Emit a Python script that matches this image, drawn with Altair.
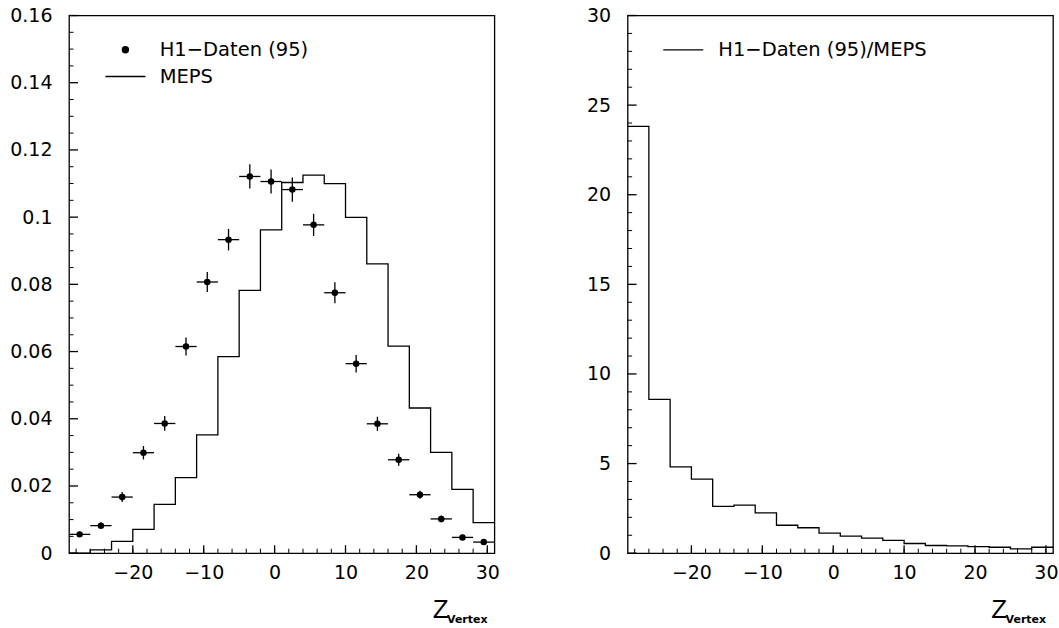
import altair as alt
import pandas as pd

# ---- data ----
bin_lo = [-29, -26, -23, -20, -17, -14, -11, -8, -5, -2, 1, 4, 7, 10, 13, 16, 19, 22, 25, 28]
bin_width = 3
meps = [0.0, 0.001, 0.0035, 0.0071, 0.0145, 0.0225, 0.0352, 0.0585, 0.0782, 0.0962,
        0.1103, 0.1125, 0.1100, 0.0999, 0.0861, 0.0616, 0.0432, 0.0300, 0.0190, 0.0091]
h1 = [0.0056, 0.0082, 0.0167, 0.0299, 0.0386, 0.0615, 0.0807, 0.0933, 0.1121, 0.1106,
      0.1082, 0.0977, 0.0775, 0.0564, 0.0385, 0.0278, 0.0174, 0.0102, 0.0047, 0.0033]
h1_err = [0.0008, 0.0009, 0.0015, 0.0020, 0.0022, 0.0027, 0.0030, 0.0032, 0.0036, 0.0036,
          0.0036, 0.0033, 0.0031, 0.0026, 0.0021, 0.0018, 0.0012, 0.0010, 0.0008, 0.0007]
ratio = [23.81, 8.58, 4.82, 4.13, 2.61, 2.68, 2.25, 1.56, 1.42, 1.12,
         0.95, 0.84, 0.71, 0.54, 0.43, 0.41, 0.37, 0.33, 0.24, 0.33]

x_major = [-20, -10, 0, 10, 20, 30]
x_minor = [-28, -26, -24, -22, -20, -18, -16, -14, -12, -10, -8, -6, -4, -2, 0,
           2, 4, 6, 8, 10, 12, 14, 16, 18, 20, 22, 24, 26, 28, 30]
yl_major = [0, 0.02, 0.04, 0.06, 0.08, 0.1, 0.12, 0.14, 0.16]
yl_minor = [0.005, 0.01, 0.015, 0.025, 0.03, 0.035, 0.045, 0.05, 0.055, 0.065, 0.07, 0.075,
            0.085, 0.09, 0.095, 0.105, 0.11, 0.115, 0.125, 0.13, 0.135, 0.145, 0.15, 0.155]
yr_major = [0, 5, 10, 15, 20, 25, 30]
yr_minor = [1, 2, 3, 4, 6, 7, 8, 9, 11, 12, 13, 14, 16, 17, 18, 19, 21, 22, 23, 24, 26, 27, 28, 29]

W = 425.4
H = 537.7
FONT = "DejaVu Sans"
LW = 1.3
LEG_FS = 19.5
LABEL_EXPR = "replace(toString(datum.value), '-', '\u2212')"

xscale = alt.Scale(domain=[-29, 31], nice=False, zero=False)
XAX = alt.Axis(values=x_major, labelExpr=LABEL_EXPR, title=None, ticks=False, domain=False,
               grid=False, labelFont=FONT, labelFontSize=19, labelColor="black",
               labelPadding=10, labelFlush=False, labelOverlap=False)


def yaxis(vals):
    return alt.Axis(values=vals, labelExpr=LABEL_EXPR, title=None, ticks=False, domain=False,
                    grid=False, labelFont=FONT, labelFontSize=19, labelColor="black",
                    labelPadding=17, labelFlush=False, labelOverlap=False)


def step_df(vals):
    return pd.DataFrame({"x": bin_lo + [bin_lo[-1] + bin_width],
                         "y": vals + [vals[-1]]})


def tick_layers(yscale, yax, ymaj, ymin):
    xmin_df = pd.DataFrame({"t": x_minor})
    xmaj_df = pd.DataFrame({"t": x_major})
    ymin_df = pd.DataFrame({"t": ymin})
    ymaj_df = pd.DataFrame({"t": ymaj})
    a = alt.Chart(xmin_df).mark_rule(color="black", strokeWidth=1).encode(
        x=alt.X("t:Q", scale=xscale, axis=XAX), y=alt.value(H), y2=alt.value(H - 4.5))
    b = alt.Chart(xmaj_df).mark_rule(color="black", strokeWidth=1.3).encode(
        x=alt.X("t:Q", scale=xscale, axis=XAX), y=alt.value(H), y2=alt.value(H - 8))
    c = alt.Chart(ymin_df).mark_rule(color="black", strokeWidth=1).encode(
        y=alt.Y("t:Q", scale=yscale, axis=yax), x=alt.value(0), x2=alt.value(4.5))
    d = alt.Chart(ymaj_df).mark_rule(color="black", strokeWidth=1.3).encode(
        y=alt.Y("t:Q", scale=yscale, axis=yax), x=alt.value(0), x2=alt.value(9))
    return [a, b, c, d]


def zlabel():
    z = alt.Chart(pd.DataFrame({"a": [0]})).mark_text(
        text="Z", font="Liberation Sans", fontSize=26, align="left", baseline="alphabetic",
        color="black").encode(x=alt.value(363.7), y=alt.value(602.3))
    v = alt.Chart(pd.DataFrame({"a": [0]})).mark_text(
        text="Vertex", font=FONT, fontSize=11, fontWeight="bold", align="left",
        baseline="alphabetic", color="black").encode(x=alt.value(378), y=alt.value(608))
    return [z, v]


# ---- left panel ----
yls = alt.Scale(domain=[0, 0.16], nice=False)
YLAX = yaxis(yl_major)
pts = pd.DataFrame({"c": [v + bin_width / 2 for v in bin_lo],
                    "lo": bin_lo, "hi": [v + bin_width for v in bin_lo],
                    "y": h1, "e": h1_err})
pts["ylo"] = pts["y"] - pts["e"]
pts["yhi"] = pts["y"] + pts["e"]

meps_line = alt.Chart(step_df(meps)).mark_line(
    interpolate="step-after", color="black", strokeWidth=LW).encode(
    x=alt.X("x:Q", scale=xscale, axis=XAX),
    y=alt.Y("y:Q", scale=yls, axis=YLAX))
hbar = alt.Chart(pts).mark_rule(color="black", strokeWidth=LW).encode(
    x=alt.X("lo:Q", scale=xscale, axis=XAX), x2="hi:Q",
    y=alt.Y("y:Q", scale=yls, axis=YLAX))
vbar = alt.Chart(pts).mark_rule(color="black", strokeWidth=LW).encode(
    x=alt.X("c:Q", scale=xscale, axis=XAX),
    y=alt.Y("ylo:Q", scale=yls, axis=YLAX), y2="yhi:Q")
dots = alt.Chart(pts).mark_circle(color="black", opacity=1, size=42).encode(
    x=alt.X("c:Q", scale=xscale, axis=XAX),
    y=alt.Y("y:Q", scale=yls, axis=YLAX))

one = pd.DataFrame({"a": [0]})
leg_dot = alt.Chart(one).mark_circle(color="black", opacity=1, size=55).encode(
    x=alt.value(56.4), y=alt.value(34.3))
leg_t1 = alt.Chart(one).mark_text(
    text="H1−Daten (95)", font=FONT, fontSize=LEG_FS, align="left", baseline="middle",
    color="black").encode(x=alt.value(90.7), y=alt.value(34.5))
leg_line = alt.Chart(one).mark_rule(color="black", strokeWidth=LW).encode(
    x=alt.value(36.4), x2=alt.value(76.4), y=alt.value(61))
leg_t2 = alt.Chart(one).mark_text(
    text="MEPS", font=FONT, fontSize=LEG_FS, align="left", baseline="middle",
    color="black").encode(x=alt.value(90.7), y=alt.value(62))

left = alt.layer(meps_line, hbar, vbar, dots, *tick_layers(yls, YLAX, yl_major, yl_minor),
                 leg_dot, leg_t1, leg_line, leg_t2, *zlabel()).properties(width=W, height=H)

# ---- right panel ----
yrs = alt.Scale(domain=[0, 30], nice=False)
YRAX = yaxis(yr_major)
ratio_line = alt.Chart(step_df(ratio)).mark_line(
    interpolate="step-after", color="black", strokeWidth=LW).encode(
    x=alt.X("x:Q", scale=xscale, axis=XAX),
    y=alt.Y("y:Q", scale=yrs, axis=YRAX))
leg_line_r = alt.Chart(one).mark_rule(color="black", strokeWidth=LW).encode(
    x=alt.value(35.7), x2=alt.value(75.7), y=alt.value(34.3))
leg_t_r = alt.Chart(one).mark_text(
    text="H1−Daten (95)/MEPS", font=FONT, fontSize=LEG_FS, align="left", baseline="middle",
    color="black").encode(x=alt.value(90.7), y=alt.value(34.5))

right = alt.layer(ratio_line, *tick_layers(yrs, YRAX, yr_major, yr_minor),
                  leg_line_r, leg_t_r, *zlabel()).properties(width=W, height=H)

chart = alt.hconcat(left, right, spacing=132.6, bounds="flush").properties(
    padding={"left": 9, "top": 5.5, "right": 0, "bottom": 0},
    background="white",
).configure_view(stroke="black", strokeWidth=1.3)

chart.save("out.html", embed_options={"renderer": "svg", "actions": False})
